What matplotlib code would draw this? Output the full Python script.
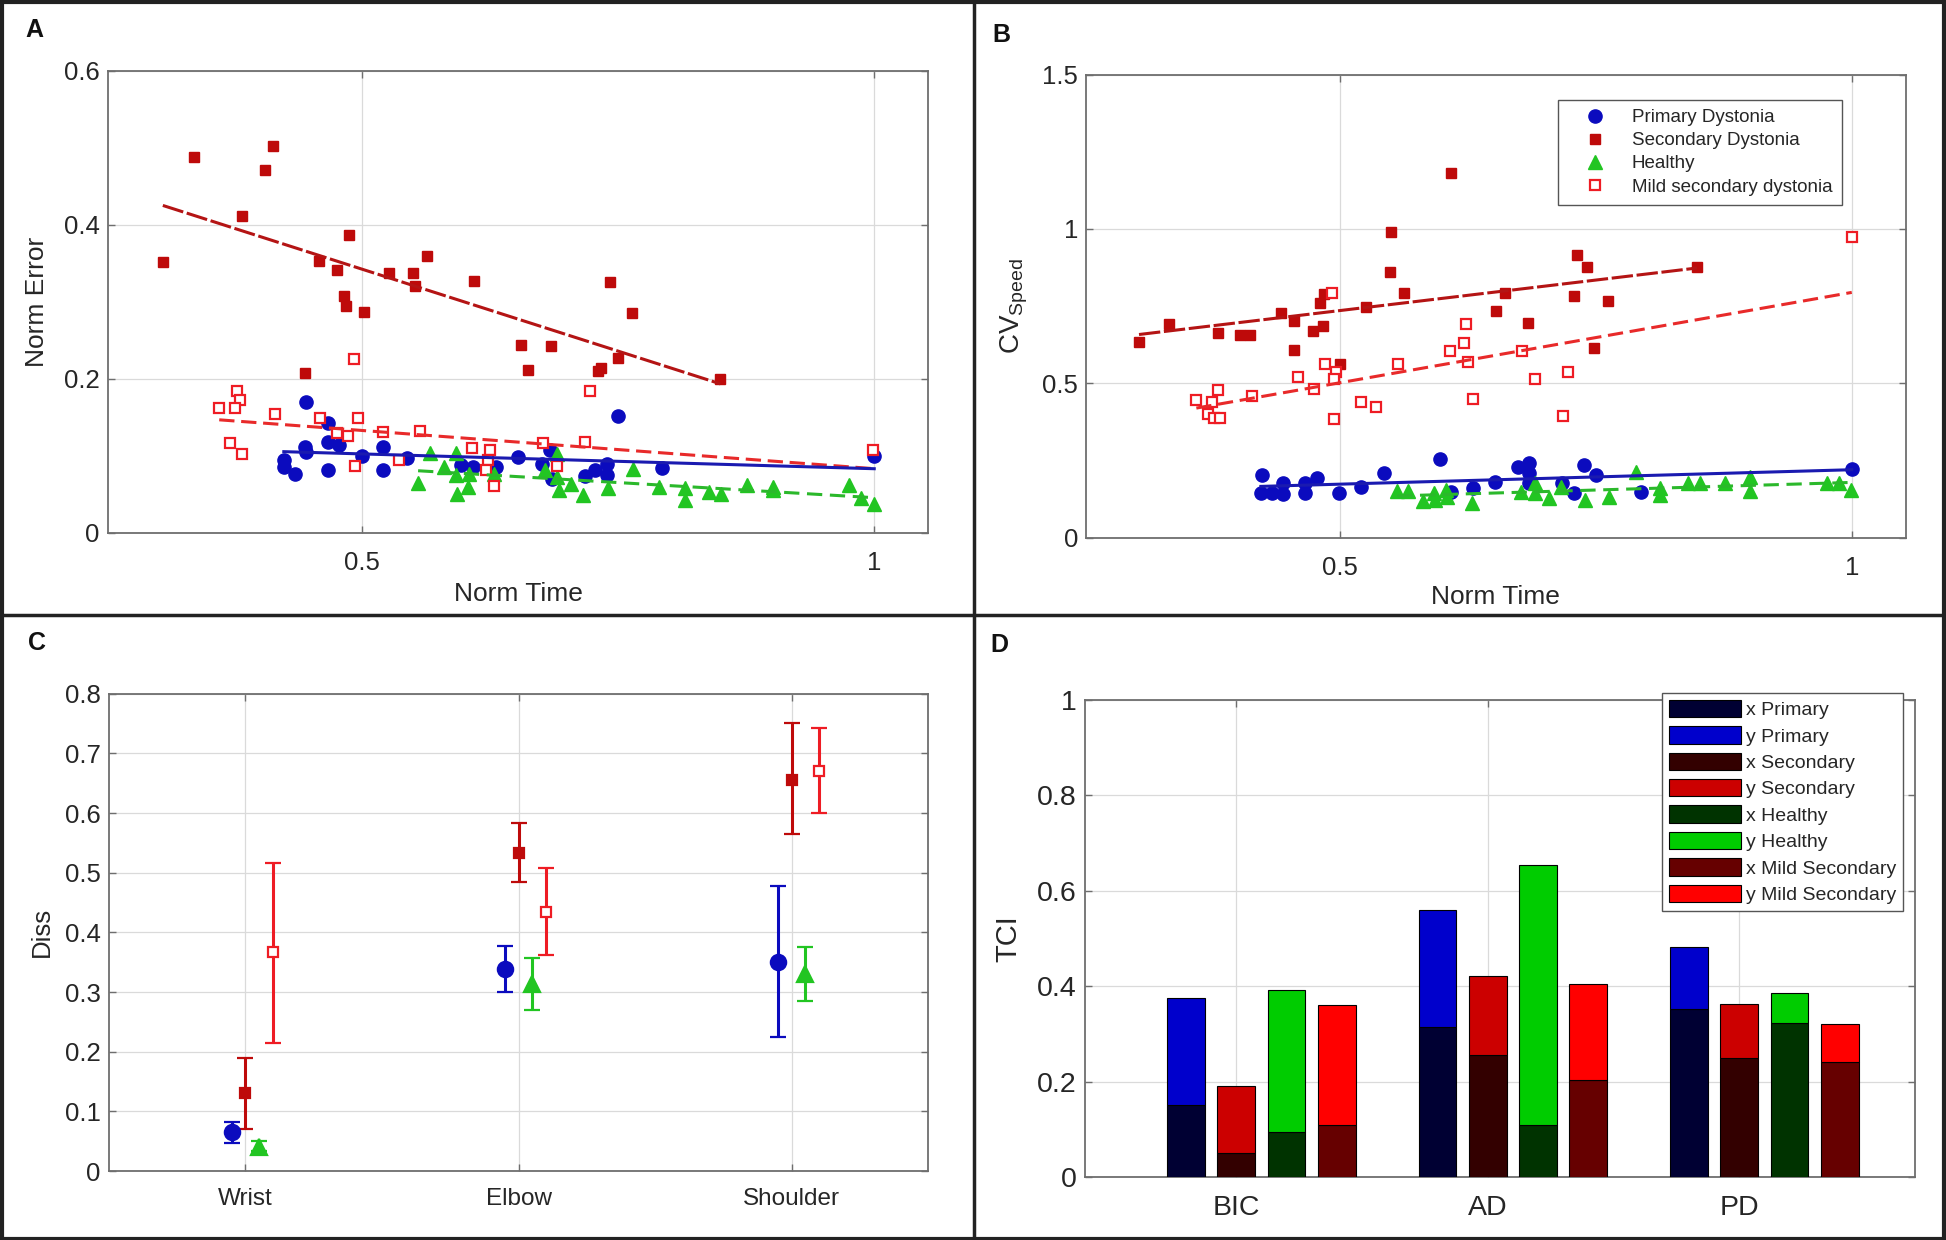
import numpy as np
import matplotlib
matplotlib.use('Agg')
import matplotlib.pyplot as plt
from matplotlib.patches import Rectangle, Patch
from matplotlib.lines import Line2D

plt.rcParams['font.family'] = ['Liberation Sans', 'DejaVu Sans']

# ---------------- Panel A data (Norm Time vs Norm Error) ----------------
A_prim_x = [0.446, 0.424, 0.424, 0.435, 0.445, 0.446, 0.467, 0.467, 0.478, 0.467, 0.500, 0.521, 0.521, 0.544,
            0.597, 0.609, 0.631, 0.652, 0.676, 0.684, 0.686, 0.718, 0.728, 0.739, 0.739, 0.750, 0.793, 1.000]
A_prim_y = [0.170, 0.094, 0.086, 0.076, 0.111, 0.105, 0.142, 0.118, 0.114, 0.082, 0.100, 0.112, 0.082, 0.097,
            0.088, 0.086, 0.086, 0.098, 0.090, 0.108, 0.070, 0.074, 0.081, 0.089, 0.075, 0.152, 0.084, 0.100]
A_sec_x = [0.306, 0.336, 0.383, 0.406, 0.413, 0.445, 0.458, 0.476, 0.483, 0.485, 0.488, 0.502, 0.527, 0.550,
           0.552, 0.564, 0.610, 0.655, 0.662, 0.685, 0.731, 0.733, 0.742, 0.750, 0.764, 0.850]
A_sec_y = [0.352, 0.488, 0.411, 0.471, 0.502, 0.208, 0.353, 0.341, 0.307, 0.294, 0.387, 0.287, 0.338, 0.337,
           0.320, 0.360, 0.327, 0.244, 0.211, 0.242, 0.210, 0.214, 0.326, 0.227, 0.286, 0.200]
A_heal_x = [0.555, 0.567, 0.580, 0.592, 0.592, 0.593, 0.604, 0.605, 0.629, 0.679, 0.691, 0.691, 0.692, 0.704,
            0.716, 0.740, 0.765, 0.790, 0.815, 0.815, 0.839, 0.851, 0.876, 0.901, 0.901, 0.975, 0.987, 1.000]
A_heal_y = [0.065, 0.104, 0.085, 0.104, 0.075, 0.051, 0.060, 0.076, 0.076, 0.082, 0.102, 0.073, 0.056, 0.063,
            0.049, 0.058, 0.083, 0.060, 0.058, 0.042, 0.053, 0.051, 0.062, 0.060, 0.056, 0.062, 0.045, 0.037]
A_mild_x = [0.361, 0.378, 0.381, 0.376, 0.372, 0.383, 0.415, 0.459, 0.476, 0.487, 0.496, 0.493, 0.492, 0.521,
            0.536, 0.557, 0.608, 0.625, 0.623, 0.621, 0.629, 0.677, 0.691, 0.718, 0.723, 0.999]
A_mild_y = [0.162, 0.184, 0.173, 0.162, 0.117, 0.103, 0.154, 0.149, 0.130, 0.126, 0.149, 0.087, 0.226, 0.131,
            0.095, 0.132, 0.110, 0.107, 0.094, 0.082, 0.061, 0.117, 0.087, 0.118, 0.184, 0.108]

# ---------------- Panel B data (Norm Time vs CV speed) ----------------
B_prim_x = [0.424, 0.423, 0.434, 0.445, 0.445, 0.466, 0.466, 0.478, 0.499, 0.521, 0.543, 0.598, 0.609, 0.630,
            0.652, 0.674, 0.685, 0.685, 0.685, 0.717, 0.729, 0.739, 0.750, 0.794, 1.000]
B_prim_y = [0.203, 0.146, 0.146, 0.176, 0.142, 0.178, 0.144, 0.192, 0.144, 0.163, 0.211, 0.254, 0.149, 0.160,
            0.181, 0.230, 0.241, 0.209, 0.176, 0.176, 0.144, 0.236, 0.203, 0.149, 0.222]
B_sec_x = [0.304, 0.333, 0.381, 0.403, 0.412, 0.443, 0.455, 0.455, 0.474, 0.481, 0.485, 0.484, 0.500, 0.526,
           0.549, 0.550, 0.563, 0.609, 0.653, 0.661, 0.684, 0.732, 0.741, 0.729, 0.762, 0.748, 0.849]
B_sec_y = [0.633, 0.691, 0.662, 0.657, 0.657, 0.727, 0.702, 0.608, 0.670, 0.761, 0.789, 0.687, 0.563, 0.748,
           0.862, 0.989, 0.792, 1.182, 0.733, 0.794, 0.697, 0.917, 0.878, 0.784, 0.767, 0.616, 0.876]
B_heal_x = [0.556, 0.567, 0.581, 0.592, 0.593, 0.604, 0.605, 0.629, 0.677, 0.691, 0.691, 0.704, 0.716, 0.740,
            0.763, 0.789, 0.813, 0.813, 0.840, 0.852, 0.876, 0.901, 0.901, 0.976, 0.988, 0.999]
B_heal_y = [0.152, 0.152, 0.120, 0.146, 0.122, 0.155, 0.133, 0.113, 0.149, 0.176, 0.144, 0.128, 0.163, 0.122,
            0.131, 0.214, 0.160, 0.138, 0.178, 0.178, 0.178, 0.198, 0.152, 0.176, 0.176, 0.155]
B_mild_x = [0.360, 0.371, 0.375, 0.381, 0.377, 0.383, 0.414, 0.459, 0.475, 0.486, 0.492, 0.496, 0.494, 0.494,
            0.521, 0.535, 0.557, 0.608, 0.621, 0.623, 0.625, 0.630, 0.678, 0.691, 0.723, 0.718, 1.000]
B_mild_y = [0.446, 0.400, 0.439, 0.478, 0.387, 0.389, 0.460, 0.520, 0.482, 0.563, 0.792, 0.538, 0.513, 0.384,
            0.441, 0.424, 0.563, 0.606, 0.630, 0.691, 0.568, 0.448, 0.606, 0.513, 0.536, 0.394, 0.973]

# ---------------- Panel C data (Diss per joint) ----------------
joints = ['Wrist', 'Elbow', 'Shoulder']
C_prim = [0.065, 0.338, 0.350]
C_prim_lo = [0.047, 0.300, 0.225]
C_prim_hi = [0.083, 0.377, 0.477]
C_sec = [0.130, 0.533, 0.656]
C_sec_lo = [0.070, 0.484, 0.564]
C_sec_hi = [0.190, 0.583, 0.751]
C_heal = [0.041, 0.314, 0.330]
C_heal_lo = [0.033, 0.270, 0.285]
C_heal_hi = [0.051, 0.357, 0.376]
C_mild = [0.367, 0.434, 0.670]
C_mild_lo = [0.214, 0.362, 0.600]
C_mild_hi = [0.517, 0.508, 0.742]

# ---------------- Panel D data (TCI per muscle, stacked x/y) ----------------
muscles = ['BIC', 'AD', 'PD']
D_x_prim = [0.150, 0.315, 0.353]
D_tot_prim = [0.376, 0.560, 0.483]
D_x_sec = [0.050, 0.256, 0.250]
D_tot_sec = [0.190, 0.421, 0.363]
D_x_heal = [0.094, 0.110, 0.322]
D_tot_heal = [0.391, 0.653, 0.386]
D_x_mild = [0.110, 0.203, 0.242]
D_tot_mild = [0.361, 0.405, 0.320]

# ---------------- styles ----------------
C_BLUE = '#0B0BBE'
C_DRED = '#BE0A0A'
C_GREEN = '#22C522'
C_RED = '#EE1C24'
TICK_FS = 18.5
LAB_FS = 19
SPINE = '#6E6E6E'
TXT = '#262626'

fig = plt.figure(figsize=(19.46, 12.40), dpi=100)


def style_axes(ax, tfs=TICK_FS):
    for s in ax.spines.values():
        s.set_color(SPINE)
        s.set_linewidth(1.3)
    ax.tick_params(direction='in', length=5, width=1, colors=SPINE, labelcolor=TXT,
                   labelsize=tfs, top=True, right=True, pad=6)
    ax.grid(True, color='#DADADA', linewidth=0.9)
    ax.set_axisbelow(True)


def fit_line(ax, x, y, color, ls):
    x = np.asarray(x)
    y = np.asarray(y)
    k, b = np.polyfit(x, y, 1)
    xs = np.array([x.min(), x.max()])
    ax.plot(xs, k * xs + b, color=color, linewidth=2.2, linestyle=ls, zorder=4)


def scatter_panel(ax, prim, sec, heal, mild):
    ax.plot(prim[0], prim[1], 'o', color=C_BLUE, markersize=9.5, linestyle='none', zorder=3,
            label='Primary Dystonia')
    ax.plot(sec[0], sec[1], 's', color=C_DRED, markersize=6.5, linestyle='none', zorder=3,
            label='Secondary Dystonia')
    ax.plot(heal[0], heal[1], '^', color=C_GREEN, markersize=10, linestyle='none', zorder=3,
            label='Healthy')
    ax.plot(mild[0], mild[1], 's', markerfacecolor='white', markeredgecolor=C_RED, markeredgewidth=1.6,
            markersize=6.5, linestyle='none', zorder=3, label='Mild secondary dystonia')
    fit_line(ax, sec[0], sec[1], '#B41414', (0, (7, 1.2)))
    fit_line(ax, mild[0], mild[1], '#E82A2A', (0, (5, 2.2)))
    fit_line(ax, prim[0], prim[1], '#1A1AB0', '-')
    fit_line(ax, heal[0], heal[1], '#2BB82B', (0, (5, 2.5)))


# ---------------- Panel A ----------------
axA = fig.add_axes([0.0555, 0.5703, 0.4214, 0.3726])
scatter_panel(axA, (A_prim_x, A_prim_y), (A_sec_x, A_sec_y), (A_heal_x, A_heal_y), (A_mild_x, A_mild_y))
axA.set_xlim(0.2525, 1.0525)
axA.set_ylim(0, 0.6)
axA.set_xticks([0.5, 1])
axA.set_xticklabels(['0.5', '1'])
axA.set_yticks([0, 0.2, 0.4, 0.6])
axA.set_yticklabels(['0', '0.2', '0.4', '0.6'])
style_axes(axA)
axA.tick_params(axis='x', pad=13)
axA.set_xlabel('Norm Time', fontsize=LAB_FS, color=TXT, labelpad=5)
axA.set_ylabel('Norm Error', fontsize=LAB_FS, color=TXT, labelpad=11)

# ---------------- Panel B ----------------
axB = fig.add_axes([0.5582, 0.5664, 0.4210, 0.3734])
scatter_panel(axB, (B_prim_x, B_prim_y), (B_sec_x, B_sec_y), (B_heal_x, B_heal_y), (B_mild_x, B_mild_y))
axB.set_xlim(0.2525, 1.0525)
axB.set_ylim(0, 1.5)
axB.set_xticks([0.5, 1])
axB.set_xticklabels(['0.5', '1'])
axB.set_yticks([0, 0.5, 1, 1.5])
axB.set_yticklabels(['0', '0.5', '1', '1.5'])
style_axes(axB)
axB.tick_params(axis='x', pad=13)
axB.set_xlabel('Norm Time', fontsize=LAB_FS, color=TXT, labelpad=4)
axB.set_ylabel('CV$_{\\mathregular{Speed}}$', fontsize=LAB_FS + 1, color=TXT, labelpad=9)
legB = axB.legend(loc='upper right', bbox_to_anchor=(0.922, 0.946), borderaxespad=0, fontsize=13.5,
                  frameon=True, fancybox=False, edgecolor='#555555', framealpha=1, numpoints=1,
                  handlelength=3.0, handletextpad=0.45, labelspacing=0.32, borderpad=0.5)
legB.get_frame().set_linewidth(1.0)
for t in legB.get_texts():
    t.set_color(TXT)

# ---------------- Panel C ----------------
axC = fig.add_axes([0.0559, 0.0556, 0.4212, 0.3850])
xc = np.arange(1, len(joints) + 1)


def errpts(ax, xpos, m, lo, hi, color, marker, ms, mfc):
    m = np.asarray(m)
    yerr = np.vstack([m - np.asarray(lo), np.asarray(hi) - m])
    ax.errorbar(xpos, m, yerr=yerr, fmt=marker, color=color, ecolor=color, markersize=ms,
                markerfacecolor=mfc, markeredgecolor=color, markeredgewidth=1.6,
                elinewidth=2.2, capsize=6, capthick=2.2, zorder=3)


errpts(axC, xc - 0.05, C_prim, C_prim_lo, C_prim_hi, C_BLUE, 'o', 11, C_BLUE)
errpts(axC, xc + 0.00, C_sec, C_sec_lo, C_sec_hi, C_DRED, 's', 7.5, C_DRED)
errpts(axC, xc + 0.05, C_heal, C_heal_lo, C_heal_hi, C_GREEN, '^', 11, C_GREEN)
errpts(axC, xc + 0.10, C_mild, C_mild_lo, C_mild_hi, C_RED, 's', 7.5, 'white')
axC.set_xlim(0.5, 3.5)
axC.set_ylim(0, 0.8)
axC.set_xticks(xc)
axC.set_xticklabels(joints)
axC.set_yticks(np.round(np.arange(0, 0.81, 0.1), 1))
axC.set_yticklabels(['0', '0.1', '0.2', '0.3', '0.4', '0.5', '0.6', '0.7', '0.8'])
style_axes(axC)
axC.tick_params(axis='x', pad=12, labelsize=17.5)
axC.set_ylabel('Diss', fontsize=18.5, color=TXT, labelpad=8)

# ---------------- Panel D ----------------
axD = fig.add_axes([0.5577, 0.0508, 0.4265, 0.3848])
xd = np.arange(1, len(muscles) + 1)
bw = 0.15
groups = [
    (-0.2, D_x_prim, D_tot_prim, '#000033', '#0000CC', 'Primary'),
    (0.0, D_x_sec, D_tot_sec, '#330000', '#CC0000', 'Secondary'),
    (0.2, D_x_heal, D_tot_heal, '#003300', '#00CC00', 'Healthy'),
    (0.4, D_x_mild, D_tot_mild, '#660000', '#FF0000', 'Mild Secondary'),
]
handles = []
for off, xv, tot, cx, cy, name in groups:
    xv = np.asarray(xv)
    yv = np.asarray(tot) - xv
    axD.bar(xd + off, xv, width=bw, color=cx, edgecolor='black', linewidth=0.8, zorder=3)
    axD.bar(xd + off, yv, bottom=xv, width=bw, color=cy, edgecolor='black', linewidth=0.8, zorder=3)
    handles.append(Patch(facecolor=cx, edgecolor='black', linewidth=0.8, label='x ' + name))
    handles.append(Patch(facecolor=cy, edgecolor='black', linewidth=0.8, label='y ' + name))
axD.set_xlim(0.4, 3.7)
axD.set_ylim(0, 1)
axD.set_xticks(xd)
axD.set_xticklabels(muscles)
axD.set_yticks([0, 0.2, 0.4, 0.6, 0.8, 1])
axD.set_yticklabels(['0', '0.2', '0.4', '0.6', '0.8', '1'])
style_axes(axD, tfs=20.5)
axD.tick_params(axis='x', pad=13)
axD.set_ylabel('TCI', fontsize=21, color=TXT, labelpad=11)
legD = axD.legend(handles=handles, loc='upper right', bbox_to_anchor=(0.985, 1.014), borderaxespad=0,
                  fontsize=14, frameon=True, fancybox=False, edgecolor='#555555', framealpha=1,
                  handlelength=3.7, handleheight=1.0, handletextpad=0.25, labelspacing=0.36,
                  borderpad=0.35)
legD.get_frame().set_linewidth(1.0)
for t in legD.get_texts():
    t.set_color(TXT)

# ---------------- panel frames and letters ----------------
fig.add_artist(Rectangle((0.001, 0.001), 0.998, 0.997, transform=fig.transFigure, fill=False,
                         edgecolor='#222222', linewidth=3))
fig.add_artist(Line2D([0.5005, 0.5005], [0, 1], transform=fig.transFigure, color='#222222', linewidth=2.5))
fig.add_artist(Line2D([0, 1], [0.504, 0.504], transform=fig.transFigure, color='#222222', linewidth=2.5))
for lbl, xf, yf in [('A', 0.0175, 0.976), ('B', 0.5144, 0.972), ('C', 0.019, 0.4815), ('D', 0.5138, 0.480)]:
    fig.text(xf, yf, lbl, fontsize=18, fontweight='bold', ha='center', va='center', color='#111111')

fig.savefig('out.png', dpi=100)
